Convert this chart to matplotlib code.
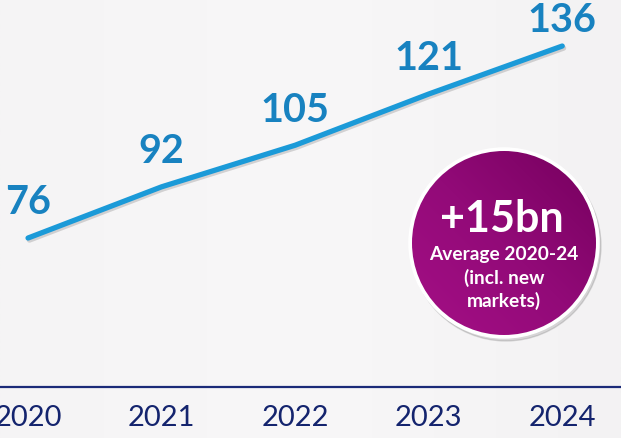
import numpy as np
import matplotlib
matplotlib.use("Agg")
from matplotlib import pyplot as plt
from matplotlib.patches import Circle
import matplotlib.patheffects as pe

years = [2020, 2021, 2022, 2023, 2024]
values = [76, 92, 105, 121, 136]
year_labels = ["2020", "2021", "2022", "2023", "2024"]
badge_big = "+15bn"
badge_lines = ["Average 2020-24", "(incl. new", "markets)"]

plt.rcParams["font.family"] = ["Lato", "DejaVu Sans"]

fig = plt.figure(figsize=(6.21, 4.39), dpi=100)
fig.patch.set_facecolor("#f4f3f4")

ax = fig.add_axes([0, 0, 1, 1])
ax.set_facecolor("none")
ax.set_xlim(2019.79, 2024.44)
ax.set_ylim(13.5, 150.7)
ax.axis("off")

# faint background wash
bg = np.linspace(0, 1, 256).reshape(1, -1)
ax.imshow(bg, extent=[2019.79, 2024.44, 13.5, 150.7], aspect="auto",
          cmap=matplotlib.colors.LinearSegmentedColormap.from_list(
              "bg", ["#f5f4f5", "#f8f7f8", "#f3f2f3"]), zorder=0)

axis_y = 29.4
ax.axhline(axis_y, color="#1b2a78", lw=1.6, zorder=2)
for x, lab in zip(years, year_labels):
    ax.text(x, 20.0, lab, ha="center", va="center", fontsize=21,
            color="#14246e", zorder=3)

ax.plot(years, values, color="#1b9ad8", lw=3.8, solid_capstyle="round",
        solid_joinstyle="round", zorder=4,
        path_effects=[pe.SimpleLineShadow(offset=(1, -1.5), alpha=0.15),
                      pe.Normal()])

# value labels, offset above the line in points (last one a bit tighter)
for i, (x, v) in enumerate(zip(years, values)):
    dy = 19 if i == len(values) - 1 else 26
    ax.annotate(str(v), (x, v), xytext=(0, dy), textcoords="offset points",
                ha="center", va="center", fontsize=28.5, fontweight="bold",
                color="#1882c0", zorder=5)

# badge in pixel coordinates
bx = fig.add_axes([0, 0, 1, 1])
bx.set_xlim(0, 621)
bx.set_ylim(439, 0)
bx.axis("off")
bx.patch.set_alpha(0)

cx, cy, r = 504, 244, 92
shadow = Circle((cx + 2, cy + 3), r + 3, color="black", alpha=0.12, zorder=1)
bx.add_patch(shadow)
border = Circle((cx, cy), r + 3, color="white", zorder=2)
bx.add_patch(border)
clip = Circle((cx, cy), r, transform=bx.transData)
gx, gy = np.meshgrid(np.linspace(0, 1, 200), np.linspace(0, 1, 200))
grad = (gx + (1 - gy)) / 2
cmap = matplotlib.colors.LinearSegmentedColormap.from_list(
    "badge", ["#a50f86", "#920a78", "#76005e"])
im = bx.imshow(grad, extent=[cx - r, cx + r, cy + r, cy - r], cmap=cmap,
               zorder=3, aspect="auto")
im.set_clip_path(clip)

bx.text(cx - 2, 219, badge_big, ha="center", va="center", fontsize=31,
        fontweight="bold", color="white", zorder=5)
for i, line in enumerate(badge_lines):
    bx.text(cx, 255 + 23 * i, line, ha="center", va="center", fontsize=13.8,
            fontweight="bold", color="white", zorder=5)

fig.savefig("out.png", dpi=100, facecolor=fig.get_facecolor())
